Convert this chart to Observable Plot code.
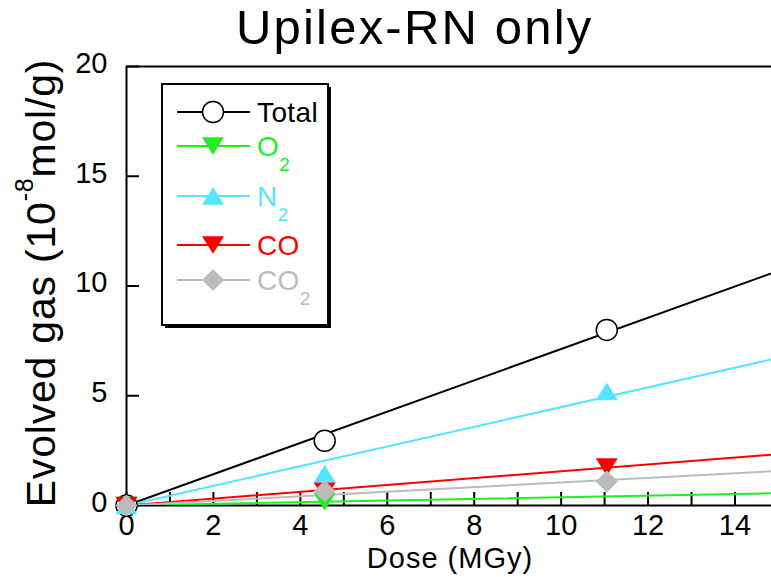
<!DOCTYPE html>
<html><head><meta charset="utf-8">
<script src="https://cdn.jsdelivr.net/npm/d3@7"></script>
<script src="https://cdn.jsdelivr.net/npm/@observablehq/plot@0.6"></script>
<style>
body{margin:0;background:#fff;font-family:"Liberation Sans",Arial,sans-serif;}
#wrap{width:771px;height:577px;position:relative;overflow:hidden;background:#fff;}
#title{position:absolute;left:0;top:0;width:771px;height:60px;}
#title span{position:absolute;left:236px;top:0px;font-size:49px;line-height:54px;letter-spacing:2.2px;white-space:nowrap;color:#000;}
#chart{position:absolute;left:0;top:60px;}
</style></head><body>
<div id="wrap"><div id="title"><span>Upilex-RN only</span></div><div id="chart"></div></div>
<script>
// ---- data ----
const doses = [0, 4.56, 11.05];                 // MGy
const seriesNames = ["Total", "O2", "N2", "CO", "CO2"];
const total = [0, 2.95, 8.0];
const o2 = [0, 0.17, null];                     // no visible point at 11 MGy
const n2 = [0, 1.45, 5.2];
const co = [0, 0.65, 1.75];
const co2 = [0, 0.65, 1.09];
const colors = ["#000000", "#22ee22", "#55e6ff", "#ff0000", "#bbbbbb"];
const xTickLabels = [0, 2, 4, 6, 8, 10, 12, 14];
const xMinorTicks = [0, 1, 2, 3, 4, 5, 6, 7, 8, 9, 10, 11, 12, 13, 14];
const yTickLabels = [0, 5, 10, 15, 20];

const values = [total, o2, n2, co, co2];

// ---- custom symbols ----
const rOf = s => Math.sqrt(s / Math.PI);
const triDown = {draw(ctx, size) { const r = rOf(size), h = r * 0.8; ctx.moveTo(-r, -h); ctx.lineTo(r, -h); ctx.lineTo(0, h); ctx.closePath(); }};
const triUp = {draw(ctx, size) { const r = rOf(size), h = r * 0.8; ctx.moveTo(-r, h); ctx.lineTo(r, h); ctx.lineTo(0, -h); ctx.closePath(); }};
const diamond = {draw(ctx, size) { const r = rOf(size); ctx.moveTo(0, -r); ctx.lineTo(r, 0); ctx.lineTo(0, r); ctx.lineTo(-r, 0); ctx.closePath(); }};
const circle = {draw(ctx, size) { const r = rOf(size); ctx.moveTo(r, 0); ctx.arc(0, 0, r, 0, 2 * Math.PI); }};
const symbols = [circle, triDown, triUp, triDown, diamond];

// ---- tables ----
const points = [];
seriesNames.forEach((s, i) => doses.forEach((d, j) => {
  if (values[i][j] != null) points.push({series: s, i, x: d, y: values[i][j]});
}));
// least-squares fit through the origin
const fits = seriesNames.map((s, i) => {
  const pts = points.filter(p => p.i === i);
  const k = d3.sum(pts, p => p.x * p.y) / d3.sum(pts, p => p.x * p.x);
  return [{series: s, x: 0, y: 0}, {series: s, x: 15, y: 15 * k}];
});

const FONT = '"Liberation Sans", Arial, sans-serif';

const plot = Plot.plot({
  width: 771, height: 517,
  marginLeft: 126, marginRight: 0, marginTop: 6, marginBottom: 72,
  x: {domain: [0, 14.84]},
  y: {domain: [0, 20]},
  style: {fontFamily: FONT, fontSize: "29px", color: "#000", background: "#fff", overflow: "visible"},
  marks: [
    Plot.axisX(xTickLabels, {tickSize: 0, tickPadding: 9, fontSize: 29, label: null}),
    Plot.axisY(yTickLabels, {tickSize: 0, tickPadding: 19, dy: -3, fontSize: 29, label: null}),
    Plot.ruleX(xMinorTicks, {x: d => d, y1: 0, y2: 0, insetTop: -13, stroke: "#000", strokeWidth: 2}),
    Plot.ruleY(yTickLabels, {y: d => d, x1: 0, x2: 0, insetRight: -13, stroke: "#000", strokeWidth: 2}),
    Plot.ruleY([0, 20], {stroke: "#000", strokeWidth: 2}),
    Plot.ruleX([0], {stroke: "#000", strokeWidth: 2}),
    ...fits.map((f, i) => Plot.line(f, {x: "x", y: "y", stroke: colors[i], strokeWidth: 2, clip: true})),
    ...seriesNames.map((s, i) => Plot.dot(points.filter(p => p.i === i), {
      x: "x", y: "y", r: i === 0 ? 10.5 : 11, symbol: () => symbols[i],
      fill: i === 0 ? "#fff" : colors[i], stroke: i === 0 ? "#000" : "none", strokeWidth: 1.5
    }))
  ]
});
document.getElementById("chart").appendChild(plot);

const svg = d3.select(plot);

// y label with superscript
const yl = svg.append("text")
  .attr("transform", "translate(55,223) rotate(-90)")
  .attr("text-anchor", "middle")
  .attr("font-family", FONT).attr("font-size", 41).attr("letter-spacing", 0.8).attr("fill", "#000");
yl.append("tspan").text("Evolved gas (10");
yl.append("tspan").attr("font-size", 25).attr("dy", -22).text("-8");
yl.append("tspan").attr("font-size", 41).attr("dy", 22).text("mol/g)");

// x label
svg.append("text").attr("x", 450).attr("y", 508).attr("text-anchor", "middle")
  .attr("font-family", FONT).attr("font-size", 29).attr("letter-spacing", 1).attr("fill", "#000")
  .text("Dose (MGy)");

// legend
const lg = svg.append("g");
lg.append("rect").attr("x", 165).attr("y", 27).attr("width", 166).attr("height", 241).attr("fill", "#000");
lg.append("rect").attr("x", 162).attr("y", 24).attr("width", 166).attr("height", 241)
  .attr("fill", "#fff").attr("stroke", "#000").attr("stroke-width", 2);
const rowsY = [52, 86, 136, 185, 220];
const labelMain = ["Total", "O", "N", "CO", "CO"];
const labelSub = ["", "2", "2", "", "2"];
seriesNames.forEach((s, i) => {
  const y = rowsY[i];
  lg.append("line").attr("x1", 177).attr("x2", 250).attr("y1", y).attr("y2", y)
    .attr("stroke", colors[i]).attr("stroke-width", 2);
  lg.append("path").attr("transform", `translate(213,${y})`)
    .attr("d", d3.symbol().type(symbols[i]).size(Math.PI * (i === 0 ? 10.5 : 11) ** 2)())
    .attr("fill", i === 0 ? "#fff" : colors[i]).attr("stroke", i === 0 ? "#000" : "none").attr("stroke-width", 1.5);
  const t = lg.append("text").attr("x", 257).attr("y", y + 10).attr("text-anchor", "start")
    .attr("font-family", FONT).attr("font-size", 28).attr("letter-spacing", 0.4).attr("fill", colors[i]);
  t.append("tspan").text(labelMain[i]);
  if (labelSub[i]) t.append("tspan").attr("font-size", 19).attr("dy", 15).text(labelSub[i]);
});
</script>
</body></html>
